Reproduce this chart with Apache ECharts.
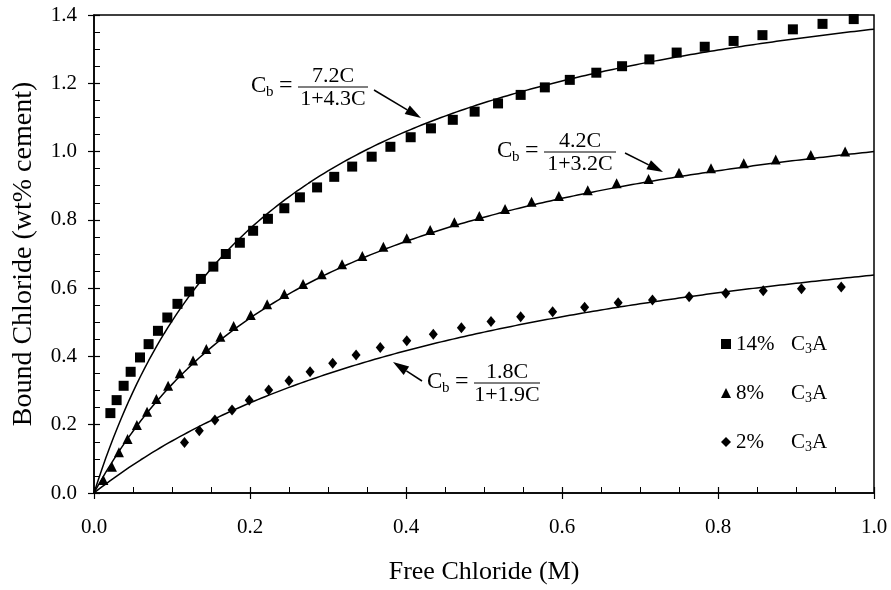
<!DOCTYPE html>
<html>
<head>
<meta charset="utf-8">
<script src="https://cdn.jsdelivr.net/npm/echarts@6/dist/echarts.min.js"></script>
<style>
  html, body { margin: 0; padding: 0; background: #fff; }
  #container { width: 891px; height: 590px; }
</style>
</head>
<body>
<div id="container"></div>
<script>
// measured points, [free chloride M, bound chloride wt%]
var c3a14 = [
  [0.021, 0.234], [0.029, 0.272], [0.038, 0.314], [0.047, 0.355], [0.059, 0.397],
  [0.070, 0.436], [0.082, 0.475], [0.094, 0.514], [0.107, 0.554], [0.122, 0.590],
  [0.137, 0.627], [0.153, 0.663], [0.169, 0.700], [0.187, 0.733], [0.204, 0.768],
  [0.223, 0.803], [0.244, 0.834], [0.264, 0.866], [0.286, 0.895], [0.308, 0.926],
  [0.331, 0.956], [0.356, 0.985], [0.380, 1.014], [0.406, 1.042], [0.432, 1.068],
  [0.460, 1.093], [0.488, 1.117], [0.518, 1.141], [0.547, 1.166], [0.578, 1.188],
  [0.610, 1.210], [0.644, 1.231], [0.677, 1.250], [0.712, 1.270], [0.747, 1.290],
  [0.783, 1.307], [0.820, 1.324], [0.857, 1.341], [0.896, 1.358], [0.934, 1.374],
  [0.974, 1.388]
];
var c3a8 = [
  [0.012, 0.038], [0.023, 0.077], [0.032, 0.119], [0.043, 0.158], [0.055, 0.199],
  [0.068, 0.238], [0.080, 0.275], [0.095, 0.314], [0.110, 0.351], [0.127, 0.388],
  [0.144, 0.422], [0.162, 0.458], [0.179, 0.489], [0.201, 0.521], [0.222, 0.553],
  [0.244, 0.583], [0.268, 0.612], [0.292, 0.641], [0.318, 0.670], [0.344, 0.694],
  [0.371, 0.721], [0.401, 0.746], [0.431, 0.770], [0.462, 0.793], [0.494, 0.811],
  [0.527, 0.832], [0.561, 0.853], [0.596, 0.870], [0.633, 0.887], [0.670, 0.907],
  [0.711, 0.920], [0.750, 0.938], [0.791, 0.951], [0.833, 0.966], [0.874, 0.977],
  [0.919, 0.990], [0.963, 1.000]
];
var c3a2 = [
  [0.116, 0.148], [0.135, 0.182], [0.155, 0.214], [0.177, 0.243], [0.199, 0.272],
  [0.224, 0.302], [0.250, 0.329], [0.277, 0.355], [0.306, 0.380], [0.336, 0.404],
  [0.367, 0.426], [0.401, 0.446], [0.435, 0.465], [0.471, 0.484], [0.509, 0.502],
  [0.547, 0.516], [0.588, 0.531], [0.629, 0.544], [0.672, 0.557], [0.716, 0.565],
  [0.763, 0.575], [0.810, 0.585], [0.858, 0.592], [0.907, 0.598], [0.958, 0.603]
];
var seriesNames = ['14%', '8%', '2%'];
// Langmuir fit Cb = a*C/(1+b*C); curve coefficients as drawn (labels are rounded)
var fitA = [7.2, 4.2, 1.8];
var fitB = [4.3, 3.2, 1.82];
var eqNum = ['7.2C', '4.2C', '1.8C'];
var eqDen = ['1+4.3C', '1+3.2C', '1+1.9C'];

var serif = '"Liberation Serif", "DejaVu Serif", serif';

function fitCurve(a, b) {
    var pts = [];
    for (var i = 0; i <= 200; i++) {
        var c = i / 200;
        pts.push([c, a * c / (1 + b * c)]);
    }
    return pts;
}

// equation label: C_b = num / den, with left edge x and fraction bar at y
function eq(x, y, num, den, fw) {
    var fx = x + 47;
    return {
        type: 'group',
        children: [
            { type: 'text', x: x, y: y - 1, style: { text: 'C', font: '23px ' + serif, fill: '#000', verticalAlign: 'middle' } },
            { type: 'text', x: x + 15, y: y + 5, style: { text: 'b', font: '15px ' + serif, fill: '#000', verticalAlign: 'middle' } },
            { type: 'text', x: x + 28, y: y - 1, style: { text: '=', font: '24px ' + serif, fill: '#000', verticalAlign: 'middle' } },
            { type: 'text', x: fx + fw / 2, y: y - 11, style: { text: num, font: '22px ' + serif, fill: '#000', align: 'center', verticalAlign: 'middle' } },
            { type: 'line', shape: { x1: fx, y1: y, x2: fx + fw, y2: y }, style: { stroke: '#000', lineWidth: 1.2 } },
            { type: 'text', x: fx + fw / 2, y: y + 12, style: { text: den, font: '22px ' + serif, fill: '#000', align: 'center', verticalAlign: 'middle' } }
        ]
    };
}

function arrow(x1, y1, x2, y2) {
    var ang = Math.atan2(y2 - y1, x2 - x1);
    var L = 16, W = 5;
    var bx = x2 - L * Math.cos(ang), by = y2 - L * Math.sin(ang);
    var px = -Math.sin(ang) * W, py = Math.cos(ang) * W;
    return {
        type: 'group',
        children: [
            { type: 'line', shape: { x1: x1, y1: y1, x2: bx, y2: by }, style: { stroke: '#000', lineWidth: 1.5 } },
            { type: 'polygon', shape: { points: [[x2, y2], [bx + px, by + py], [bx - px, by - py]] }, style: { fill: '#000' } }
        ]
    };
}

var myChart = echarts.init(document.getElementById('container'));

var axisCommon = {
    min: 0,
    axisLine: { lineStyle: { color: '#000', width: 1.5 } },
    splitLine: { show: false }
};

var option = {
    backgroundColor: '#fff',
    animation: false,
    textStyle: { fontFamily: serif },
    grid: {
        left: 94, right: 17, top: 15, bottom: 97,
        show: true, borderColor: '#000', borderWidth: 1.5, backgroundColor: 'transparent'
    },
    legend: {
        data: seriesNames,
        orient: 'vertical',
        left: 716,
        top: 327,
        itemGap: 25,
        itemWidth: 10,
        itemHeight: 10,
        formatter: function (name) {
            return '{p|' + name + '}{c|C}{s|3}{c|A}';
        },
        textStyle: {
            rich: {
                p: { width: 55, fontSize: 21, lineHeight: 24, fontFamily: serif, color: '#000' },
                c: { fontSize: 21, lineHeight: 24, fontFamily: serif, color: '#000' },
                s: { fontSize: 14, lineHeight: 24, fontFamily: serif, color: '#000', verticalAlign: 'bottom', padding: [10, 0, 0, 0] }
            }
        }
    },
    xAxis: [
        Object.assign({}, axisCommon, {
            type: 'value', max: 1.0, interval: 0.2,
            name: 'Free Chloride (M)', nameLocation: 'middle', nameGap: 66,
            nameTextStyle: { fontSize: 26, fontFamily: serif, color: '#000' },
            axisTick: { inside: true, length: 6, lineStyle: { color: '#000', width: 1.2 } },
            minorTick: { show: true, splitNumber: 4, length: 6, lineStyle: { color: '#000', width: 1 } },
            axisLabel: { fontSize: 21, fontFamily: serif, color: '#000', margin: 24,
                formatter: function (v) { return v.toFixed(1); } }
        }),
        {
            type: 'value', min: 0, max: 1.0, interval: 0.2, position: 'bottom',
            axisLine: { show: false }, splitLine: { show: false }, axisLabel: { show: false },
            axisTick: { inside: false, length: 6, lineStyle: { color: '#000', width: 1.2 } }
        }
    ],
    yAxis: [
        Object.assign({}, axisCommon, {
            type: 'value', max: 1.4, interval: 0.2,
            name: 'Bound Chloride (wt% cement)', nameLocation: 'middle', nameGap: 56,
            nameTextStyle: { fontSize: 28, fontFamily: serif, color: '#000' },
            axisTick: { inside: true, length: 6, lineStyle: { color: '#000', width: 1.2 } },
            minorTick: { show: true, splitNumber: 4, length: 6, lineStyle: { color: '#000', width: 1 } },
            axisLabel: { fontSize: 21, fontFamily: serif, color: '#000', margin: 17,
                formatter: function (v) { return v.toFixed(1); } }
        }),
        {
            type: 'value', min: 0, max: 1.4, interval: 0.2, position: 'left',
            axisLine: { show: false }, splitLine: { show: false }, axisLabel: { show: false },
            axisTick: { inside: false, length: 6, lineStyle: { color: '#000', width: 1.2 } }
        }
    ],
    series: [
        { name: '14%', type: 'scatter', data: c3a14, symbol: 'rect', symbolSize: 10, itemStyle: { color: '#000', opacity: 1 }, z: 3 },
        { name: '8%', type: 'scatter', data: c3a8, symbol: 'triangle', symbolSize: 10, itemStyle: { color: '#000', opacity: 1 }, z: 3 },
        { name: '2%', type: 'scatter', data: c3a2, symbol: 'diamond', symbolSize: [9, 11], itemStyle: { color: '#000', opacity: 1 }, z: 3 },
        { name: 'fit14', type: 'line', data: fitCurve(fitA[0], fitB[0]), showSymbol: false, lineStyle: { color: '#000', width: 1.5 } },
        { name: 'fit8', type: 'line', data: fitCurve(fitA[1], fitB[1]), showSymbol: false, lineStyle: { color: '#000', width: 1.5 } },
        { name: 'fit2', type: 'line', data: fitCurve(fitA[2], fitB[2]), showSymbol: false, lineStyle: { color: '#000', width: 1.5 } }
    ],
    graphic: [
        eq(251, 87, eqNum[0], eqDen[0], 70),
        arrow(374, 90, 421, 118),
        eq(497, 152, eqNum[1], eqDen[1], 72),
        arrow(625, 153, 663, 172),
        eq(427, 383, eqNum[2], eqDen[2], 66),
        arrow(422, 381, 393, 362)
    ]
};

myChart.setOption(option);
</script>
</body>
</html>
